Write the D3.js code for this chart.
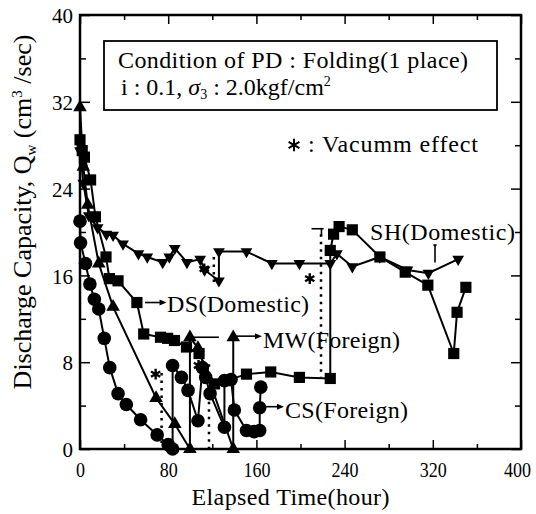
<!DOCTYPE html>
<html><head><meta charset="utf-8">
<script src="https://cdn.jsdelivr.net/npm/d3@7"></script>
<style>html,body{margin:0;padding:0;background:#fff;}svg{display:block;}
svg text{font-family:"Liberation Serif","Times New Roman",Times,"DejaVu Serif","Noto Serif",serif !important;fill:#000;}</style>
</head><body>
<svg id="chart" width="536" height="514"></svg>
<script>
// ---- data ----
const xTicks = [0, 80, 160, 240, 320, 400];
const yTicks = [0, 8, 16, 24, 32, 40];
const xMinor = [40, 120, 200, 280, 360];
const yMinor = [4, 12, 20, 28, 36];

// SH (Domestic) - inverted triangles
const shTime = [0, 3, 8, 16, 24, 30, 39, 53, 61, 75, 81, 86, 97, 109, 113, 126, 126, 151, 174, 199, 227, 233, 247, 272, 297, 316, 343];
const shQ    = [27.5, 24.5, 21.5, 20.4, 19.8, 19.7, 18.9, 18.0, 17.7, 17.2, 17.7, 18.5, 17.2, 17.5, 16.5, 15.5, 18.2, 18.2, 17.1, 17.1, 17.1, 18.0, 16.8, 17.7, 16.5, 16.2, 17.5];

// DS (Domestic) - squares
const dsTime = [0, 2, 4, 9.6, 14, 23.6, 26.7, 34.5, 51.6, 57.8, 73, 79.5, 85.7, 96.6, 108, 122, 133, 151, 173, 199, 227, 227, 230, 235, 247, 272, 295, 315.5, 339, 342, 350];
const dsQ    = [28.5, 27.5, 26.9, 24.8, 21.4, 17.7, 15.7, 15.5, 13.5, 10.6, 10.3, 10.2, 10.0, 9.4, 8.8, 6.0, 6.3, 6.9, 7.1, 6.6, 6.5, 18.3, 19.8, 20.5, 20.2, 17.7, 16.3, 15.1, 8.8, 12.6, 14.9];

// MW (Foreign) - triangles
const mwTime = [0, 3, 7, 17, 30, 69, 86, 99.7, 99.7, 107, 139, 139];
const mwQ    = [31.5, 26, 22.5, 17.1, 13.1, 4.7, 2.3, 0, 10.3, 9.3, 0, 10.3];

// CS (Foreign) - circles
const csTime = [0, 0.5, 5, 9, 13, 17, 22, 27, 34.5, 42, 55, 70, 80, 84, 84, 92, 98, 107, 111, 114, 118, 131, 131, 137, 140, 151, 158, 163, 163, 164];
const csQ    = [21, 19, 17.1, 15.2, 13.8, 12.9, 10.2, 7.5, 5.1, 4.1, 2.7, 1.3, 0.4, 0, 7.7, 6.6, 5.4, 2.6, 7.5, 6.6, 5.1, 2.0, 6.3, 6.4, 3.6, 1.7, 1.6, 1.7, 3.8, 5.7];

// vacuum effect marks
const vacTime = [68.6, 107.5, 112.7, 208.4];
const vacQ    = [6.9, 7.7, 16.6, 15.7];
// dotted vacuum lines: time, from, to
const vacLineTime = [74, 117, 121.4, 218.6];
const vacLineTop  = [7.0, 7.8, 17.7, 19.8];
const vacLineBot  = [0, 0, 15.2, 6.6];

// ---- chart ----
const svg = d3.select("#chart");
const x = d3.scaleLinear().domain([0, 400]).range([80, 521]);
const y = d3.scaleLinear().domain([0, 40]).range([449, 15]);
const FONT = "Liberation Serif, Times New Roman, Times, DejaVu Serif, serif";

function zip(t, q) { return t.map((d, i) => ({t: d, q: q[i]})); }

// axes (inward ticks)
function axisG(axis, tr) {
  const g = svg.append("g").attr("transform", tr).call(axis).attr("font-family", FONT);
  g.select(".domain").remove();
  g.selectAll("line").attr("stroke", "#000").attr("stroke-width", 1.5);
  return g;
}
const bottom = axisG(d3.axisBottom(x).tickValues(xTicks).tickSize(-9).tickPadding(12).tickFormat(d3.format("d")), `translate(0,${y(0)})`);
axisG(d3.axisBottom(x).tickValues(xMinor).tickSize(-5).tickFormat(""), `translate(0,${y(0)})`);
axisG(d3.axisTop(x).tickValues(xTicks).tickSize(-9).tickFormat(""), `translate(0,${y(40)})`);
axisG(d3.axisTop(x).tickValues(xMinor).tickSize(-5).tickFormat(""), `translate(0,${y(40)})`);
const left = axisG(d3.axisLeft(y).tickValues(yTicks).tickSize(-10).tickPadding(7).tickFormat(d3.format("d")), `translate(${x(0)},0)`);
axisG(d3.axisLeft(y).tickValues(yMinor).tickSize(-6).tickFormat(""), `translate(${x(0)},0)`);
axisG(d3.axisRight(y).tickValues(yTicks).tickSize(-10).tickFormat(""), `translate(${x(400)},0)`);
axisG(d3.axisRight(y).tickValues(yMinor).tickSize(-6).tickFormat(""), `translate(${x(400)},0)`);

bottom.selectAll("text").attr("font-size", 22).attr("fill", "#000")
  .attr("textLength", d => String(d).length * 9).attr("lengthAdjust", "spacingAndGlyphs")
  .attr("dx", d => d === 400 ? -4 : 0);
left.selectAll("text").attr("font-size", 22).attr("fill", "#000").attr("dy", "0.35em")
  .attr("textLength", d => String(d).length * 10.5).attr("lengthAdjust", "spacingAndGlyphs");

// frame
svg.append("rect").attr("x", x(0)).attr("y", y(40)).attr("width", x(400) - x(0)).attr("height", y(0) - y(40))
  .attr("fill", "none").attr("stroke", "#000").attr("stroke-width", 2.5);

// axis titles
svg.append("text").attr("x", (x(0) + x(400)) / 2 - 10).attr("y", 505).attr("text-anchor", "middle")
  .attr("font-size", 24).attr("textLength", 198).text("Elapsed Time(hour)");
const yt = svg.append("text").attr("transform", `translate(31,${212}) rotate(-90)`).attr("text-anchor", "middle")
  .attr("font-size", 26);
yt.append("tspan").text("Discharge Capacity, Q");
yt.append("tspan").attr("font-size", 15).attr("dy", 5).text("w");
yt.append("tspan").attr("dy", -5).text(" (cm");
yt.append("tspan").attr("font-size", 15).attr("dy", -9).text("3");
yt.append("tspan").attr("dy", 9).text(" /sec)");

// dotted vacuum lines
const vacLines = vacLineTime.map((t, i) => ({t, a: vacLineTop[i], b: vacLineBot[i]}));
svg.append("g").selectAll("line").data(vacLines).join("line")
  .attr("x1", d => x(d.t)).attr("x2", d => x(d.t)).attr("y1", d => y(d.a)).attr("y2", d => y(d.b))
  .attr("stroke", "#000").attr("stroke-width", 2.5).attr("stroke-dasharray", "2.5,5");

// short solid bars
const barSegs = [
  {t1: 210, q1: 20.3, t2: 221, q2: 20.3},
  {t1: 219, q1: 20.3, t2: 219, q2: 19.6},
  {t1: 100, q1: 10.3, t2: 126, q2: 10.3},
  {t1: 322, q1: 18.8, t2: 322, q2: 17.2},
  {t1: 320.5, q1: 18.8, t2: 323.5, q2: 18.8}
];
svg.append("g").selectAll("line").data(barSegs).join("line")
  .attr("x1", d => x(d.t1)).attr("x2", d => x(d.t2)).attr("y1", d => y(d.q1)).attr("y2", d => y(d.q2))
  .attr("stroke", "#000").attr("stroke-width", 1.6);

// series
const line = d3.line().x(d => x(d.t)).y(d => y(d.q));
const series = [
  {data: zip(shTime, shQ), type: d3.symbolTriangle, size: 60, rot: 180},
  {data: zip(dsTime, dsQ), type: d3.symbolSquare, size: 125, rot: 0},
  {data: zip(mwTime, mwQ), type: d3.symbolTriangle, size: 80, rot: 0},
  {data: zip(csTime, csQ), type: d3.symbolCircle, size: 145, rot: 0}
];
series.forEach(s => {
  svg.append("path").datum(s.data).attr("d", line).attr("fill", "none").attr("stroke", "#000").attr("stroke-width", 2);
  svg.append("g").selectAll("path").data(s.data).join("path")
    .attr("transform", d => `translate(${x(d.t)},${y(d.q)}) rotate(${s.rot})`)
    .attr("d", d3.symbol().type(s.type).size(s.size)).attr("fill", "#000");
});

// vacuum stars
svg.append("g").selectAll("path").data(zip(vacTime, vacQ)).join("path")
  .attr("transform", d => `translate(${x(d.t)},${y(d.q)})`)
  .attr("d", d3.symbol().type(d3.symbolAsterisk).size(80)).attr("fill", "none").attr("stroke", "#000").attr("stroke-width", 2.4);

// arrows + labels
const labels = [
  {text: "SH(Domestic)", t: 263, q: 19.3, len: 145},
  {text: "DS(Domestic)", t: 79, q: 12.6, len: 142, a1: 59, a2: 78.5, aq: 13.5},
  {text: "MW(Foreign)", t: 166, q: 9.3, len: 137, a1: 141.5, a2: 165, aq: 10.4},
  {text: "CS(Foreign)", t: 186, q: 2.9, len: 123, a1: 167.5, a2: 185, aq: 3.9}
];
labels.forEach(l => {
  svg.append("text").attr("x", x(l.t)).attr("y", y(l.q)).attr("font-size", 24).attr("textLength", l.len).text(l.text);
  if (l.a1 !== undefined) {
    svg.append("line").attr("x1", x(l.a1)).attr("x2", x(l.a2) - 4).attr("y1", y(l.aq)).attr("y2", y(l.aq))
      .attr("stroke", "#000").attr("stroke-width", 1.6);
    svg.append("path").attr("d", `M${x(l.a2)},${y(l.aq)} l-7,-3 l0,6 z`).attr("fill", "#000");
  }
});

// legend box
svg.append("rect").attr("x", 104).attr("y", 41).attr("width", 393).attr("height", 69)
  .attr("fill", "#fff").attr("stroke", "#000").attr("stroke-width", 1.8);
svg.append("text").attr("x", 118).attr("y", 68).attr("font-size", 24).attr("textLength", 350).text("Condition of PD : Folding(1 place)");
const l2 = svg.append("text").attr("x", 121).attr("y", 95).attr("font-size", 24);
l2.append("tspan").text("i : 0.1, ");
l2.append("tspan").attr("font-style", "italic").text("σ");
l2.append("tspan").attr("font-size", 14).attr("dy", 4).text("3");
l2.append("tspan").attr("dy", -4).text(" : 2.0kgf/cm");
l2.append("tspan").attr("font-size", 14).attr("dy", -9).text("2");

// vacuum legend
svg.append("path").attr("transform", "translate(294,145)").attr("d", d3.symbol().type(d3.symbolAsterisk).size(110))
  .attr("fill", "none").attr("stroke", "#000").attr("stroke-width", 2);
svg.append("text").attr("x", 308).attr("y", 152).attr("font-size", 24).attr("textLength", 170).text(": Vacumm effect");
</script>
</body></html>
